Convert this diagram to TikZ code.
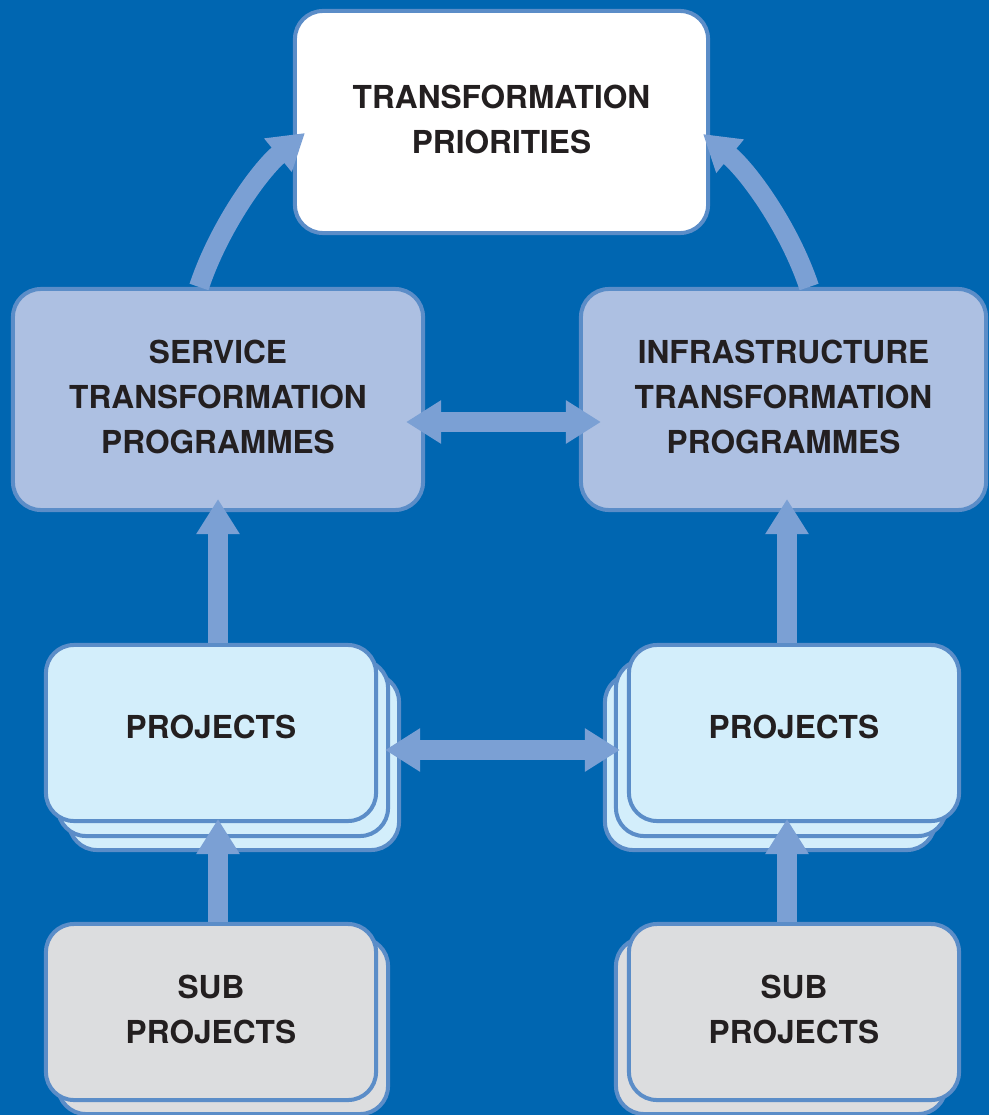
\documentclass[tikz,border=0pt]{standalone}
\usepackage{fontspec}
\setmainfont{TeX Gyre Heros}
\usetikzlibrary{arrows.meta}
\definecolor{bgblue}{RGB}{0,102,177}
\definecolor{edgeblue}{RGB}{91,141,200}
\definecolor{arrowblue}{RGB}{123,160,212}
\definecolor{progfill}{RGB}{173,192,226}
\definecolor{projfill}{RGB}{211,238,251}
\definecolor{subfill}{RGB}{220,221,223}
\definecolor{inkblack}{RGB}{35,31,32}
\tikzstyle{card}=[draw=edgeblue, line width=0.1cm, rounded corners=0.7cm,
    text=inkblack, align=center, inner sep=0pt, text depth=4.3pt,
    font=\fontsize{22.5}{32}\selectfont\bfseries]
\tikzstyle{prio}=[card, fill=white, minimum width=10.325cm, minimum height=5.55cm]
\tikzstyle{prog}=[card, fill=progfill, minimum height=5.525cm]
\tikzstyle{proj}=[card, fill=projfill, minimum width=8.25cm, minimum height=4.4cm,
    text depth=8.5pt]
\tikzstyle{subproj}=[card, fill=subfill, minimum width=8.25cm, minimum height=4.4cm]
\tikzstyle{flow}=[draw=arrowblue, line width=0.5cm,
    -{Triangle[length=0.875cm,width=1.025cm]}]
\tikzstyle{flow2}=[flow, {Triangle[length=0.875cm,width=1.025cm]}-{Triangle[length=0.875cm,width=1.025cm]}]

\begin{document}
\begin{tikzpicture}[x=0.025cm, y=-0.025cm]
    \useasboundingbox (0,0) rectangle (989,1115);
    \fill[bgblue] (0,0) rectangle (989,1115);
    \node (prio) [prio] at (501.5,122) {TRANSFORMATION\\PRIORITIES};
    \node (stp) [prog, minimum width=10.25cm] at (218,399.5)
    {SERVICE\\TRANSFORMATION\\PROGRAMMES};
    \node (itp) [prog, minimum width=10.125cm] at (783.5,399.5)
    {INFRASTRUCTURE\\TRANSFORMATION\\PROGRAMMES};
    \coordinate (pa) at (211,733);
    \coordinate (pb) at (794,733);
    \path (pa)+(23,29) node (plA3) [proj] {};
    \path (pa)+(12,15) node (plA2) [proj] {};
    \node (plA) [proj] at (pa) {PROJECTS};
    \path (pb)+(-24,29) node (plB3) [proj] {};
    \path (pb)+(-13,15) node (plB2) [proj] {};
    \node (plB) [proj] at (pb) {PROJECTS};
    \coordinate (sa) at (211,1012);
    \coordinate (sb) at (794,1012);
    \path (sa)+(12,14) node (sbA2) [subproj] {};
    \node (sbA) [subproj] at (sa) {SUB\\PROJECTS};
    \path (sb)+(-13,14) node (sbB2) [subproj] {};
    \node (sbB) [subproj] at (sb) {SUB\\PROJECTS};
    \coordinate (colA) at (218,0);
    \coordinate (colB) at (787,0);
    \coordinate (rowA) at (0,422);
    \coordinate (rowB) at (0,750);
    \path [flow, shorten >=-0.1cm] (sbA.north -| colA) -- (plA.south -| colA);
    \path [flow, shorten >=-0.1cm] (sbB.north -| colB) -- (plB.south -| colB);
    \path [flow, shorten >=-0.325cm] (plA.north -| colA) -- (stp.south -| colA);
    \path [flow, shorten >=-0.325cm] (plB.north -| colB) -- (itp.south -| colB);
    \path [flow2, shorten <=-0.475cm, shorten >=-0.55cm] (stp.east |- rowA) -- (itp.west |- rowA);
    \path [flow2, shorten <=0.175cm, shorten >=0.175cm] (plA.east |- rowB) -- (plB.west |- rowB);
    \path [flow] ([xshift=-0.475cm]stp.north) .. controls (219,227) and (260,170)
    .. ([xshift=0.3cm, yshift=-0.275cm]prio.west);
    \path [flow] ([xshift=0.64cm]itp.north) .. controls (789,227) and (748,171)
    .. ([xshift=-0.175cm, yshift=-0.3cm]prio.east);
\end{tikzpicture}
\end{document}
